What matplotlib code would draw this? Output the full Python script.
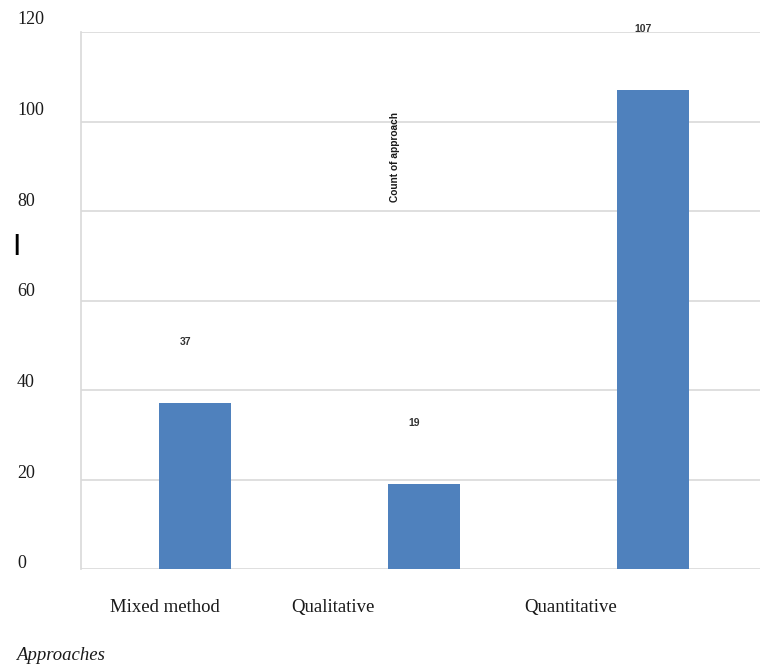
import numpy as np
import matplotlib
matplotlib.use("Agg")
import matplotlib.pyplot as plt
from matplotlib.transforms import blended_transform_factory, ScaledTranslation

# donnees du graphique
categories = ["Mixed method", "Qualitative", "Quantitative"]
counts = [37, 19, 107]
yticks = [0, 20, 40, 60, 80, 100, 120]

# decalage des libelles de categorie par rapport aux barres
label_shift = [-0.13, -0.40, -0.36]

bar_color = "#4F81BD"
grid_color = "#d9d9d9"
serif = "Liberation Serif"
sans = "Liberation Sans"

fig = plt.figure(figsize=(7.61, 6.64), dpi=100)
ax = fig.add_axes([81 / 761, 95 / 664, 679 / 761, 537 / 664])

x = np.arange(len(categories))
ax.bar(x, counts, width=0.314, color=bar_color, zorder=3)

ax.set_xlim(-0.498, 2.467)
ax.set_ylim(0, 120)

# quadrillage horizontal
for v in yticks:
    ax.axhline(v, color=grid_color, linewidth=1.2, zorder=1)

for s in ["top", "right", "bottom"]:
    ax.spines[s].set_visible(False)
ax.spines["left"].set_color(grid_color)
ax.spines["left"].set_linewidth(1.2)
ax.set_xticks([])
ax.set_yticks([])

# libelles de l'axe y, alignes a gauche
trans_y = blended_transform_factory(ax.transAxes, ax.transData)
for v in yticks:
    dy = (0.5 + v * 0.06) * 0.72 / 72
    ax.text(-0.0943, v, str(v), ha="left", va="baseline", fontsize=13,
            family=serif, color="#1a1a1a", clip_on=False,
            transform=trans_y + ScaledTranslation(0, dy, fig.dpi_scale_trans))

# valeurs au dessus des barres
for xi, c in zip(x, counts):
    ax.annotate(str(c), (xi, c), xytext=(-7, 44), textcoords="offset points",
                ha="center", va="center", fontsize=7.5, fontweight="bold",
                family=sans, color="#333333", annotation_clip=False)

# libelles des categories
trans_x = blended_transform_factory(ax.transData, ax.transAxes)
for xi, name, sh in zip(x, categories, label_shift):
    ax.text(xi + sh, -0.072, name, ha="center", va="center", fontsize=13.5,
            family=serif, color="#1a1a1a", transform=trans_x, clip_on=False)

# titre de l'axe y (mal place dans la zone du graphique)
ax.text(0.4625, 0.767, "Count of approach", rotation=90, ha="center",
        va="center", fontsize=7.3, fontweight="bold", family=sans,
        transform=ax.transAxes, color="#1a1a1a")

# titre de l'axe x
fig.text(16 / 761, 1 - 655 / 664, "Approaches", ha="left", va="center",
         fontsize=13.5, style="italic", family=serif, color="#1a1a1a")

fig.text(16 / 761, 1 - 245 / 664, "|", ha="center", va="center",
         fontsize=16, fontweight="bold", family=sans, color="black")

fig.savefig("out.png", dpi=100)
